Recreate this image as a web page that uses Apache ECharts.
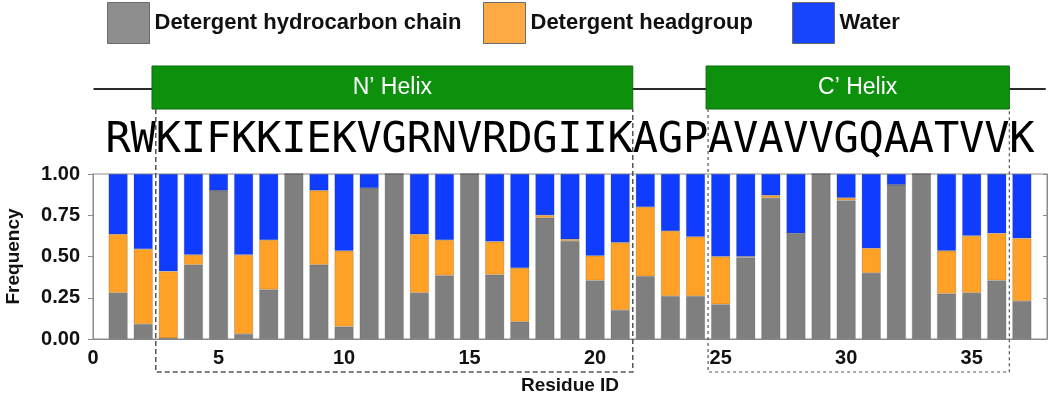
<!DOCTYPE html>
<html>
<head>
<meta charset="utf-8">
<script src="https://cdn.jsdelivr.net/npm/echarts@6/dist/echarts.min.js"></script>
<style>
html,body{margin:0;padding:0;background:#fff;}
#chart{width:1050px;height:400px;}
</style>
</head>
<body>
<div id="chart"></div>
<script>
// ---- data ----
const sequence = ['R','W','K','I','F','K','K','I','E','K','V','G','R','N','V','R','D','G','I','I','K','A','G','P','A','V','A','V','V','G','Q','A','A','T','V','V','K'];
const residueIds = [1,2,3,4,5,6,7,8,9,10,11,12,13,14,15,16,17,18,19,20,21,22,23,24,25,26,27,28,29,30,31,32,33,34,35,36,37];
const hydrocarbon = [0.28,0.09,0.005,0.45,0.90,0.03,0.30,1.00,0.45,0.075,0.915,1.00,0.28,0.385,1.00,0.39,0.105,0.735,0.595,0.355,0.175,0.38,0.26,0.26,0.21,0.495,0.855,0.64,1.00,0.84,0.40,0.935,1.00,0.275,0.28,0.355,0.23];
const headgroup = [0.355,0.455,0.405,0.06,0,0.48,0.30,0,0.45,0.46,0,0,0.355,0.215,0,0.20,0.325,0.015,0.01,0.15,0.41,0.42,0.395,0.36,0.29,0.005,0.015,0,0,0.015,0.15,0,0,0.26,0.345,0.285,0.38];
const water = [0.365,0.455,0.59,0.49,0.10,0.49,0.40,0,0.10,0.465,0.085,0,0.365,0.40,0,0.41,0.57,0.25,0.395,0.495,0.415,0.20,0.345,0.38,0.50,0.50,0.13,0.36,0,0.145,0.45,0.065,0,0.465,0.375,0.36,0.39];
const helices = [
  {name: "N\u2019 Helix", start: 2.5, end: 21.5},
  {name: "C\u2019 Helix", start: 24.5, end: 36.5}
];
const seriesNames = ['Detergent hydrocarbon chain','Detergent headgroup','Water'];
const xTicks = [0, 5, 10, 15, 20, 25, 30, 35];
const yTicks = [0, 0.25, 0.5, 0.75, 1];
const xMax = 38;

// ---- styles ----
const barColors = ['#7f7f7f','#ffa126','#0f3cff'];
const legendColors = ['#8e8e8e','#ffab45','#1744ff'];
const legendLefts = [107, 483, 792];
const boldFont = 'Liberation Sans, Arial, sans-serif';

const chart = echarts.init(document.getElementById('chart'), null, {renderer:'canvas'});

// category slots 0..xMax so every residue sits on its own integer tick
const slots = [];
for (let i = 0; i <= xMax; i++) slots.push(String(i));
function slotData(arr){
  const out = slots.map(() => null);
  arr.forEach((v,i)=>{ out[residueIds[i]] = v; });
  return out;
}

const barSeries = [hydrocarbon, headgroup, water].map((arr, k) => ({
  name: seriesNames[k],
  type: 'bar',
  stack: 'freq',
  xAxisIndex: 1, yAxisIndex: 0,
  barWidth: 19,
  data: slotData(arr),
  itemStyle: {color: barColors[k], borderColor: 'rgba(60,60,60,0.35)', borderWidth: 0.6},
  silent: true,
  animation: false,
  z: 2
}));

// helix diagram, sequence letters and dashed boxes (positioned relative to plot via axes)
const decoSeries = {
  type: 'custom',
  name: 'deco',
  xAxisIndex: 0, yAxisIndex: 0,
  data: [0],
  silent: true,
  animation: false,
  z: 5,
  renderItem: function(params, api){
    const top = api.coord([0, 1])[1];
    const bottom = api.coord([0, 0])[1];
    const children = [];
    const lineY = top - 85;
    const boxTop = top - 108, boxBot = top - 65;
    children.push({type:'line', shape:{x1: api.coord([0.02,1])[0], y1: lineY, x2: api.coord([37.95,1])[0], y2: lineY},
      style:{stroke:'#2a2a2a', lineWidth:2}, z2: 1});
    helices.forEach((h, idx) => {
      const x1 = api.coord([h.start - (idx===0?0.15:0.08), 1])[0];
      const x2 = api.coord([h.end, 1])[0];
      children.push({type:'rect', shape:{x:x1, y:boxTop, width:x2-x1, height:boxBot-boxTop},
        style:{fill:'#0d910d', stroke:'#0a6a0a', lineWidth:1}, z2: 2});
      children.push({type:'text', style:{text:h.name, x:(x1+x2)/2, y:(boxTop+boxBot)/2, align:'center', verticalAlign:'middle',
        fill:'#ffffff', font:'23px "Liberation Sans", Arial, sans-serif'}, z2: 3});
      const dx1 = api.coord([h.start,1])[0], dx2 = api.coord([h.end,1])[0];
      const dBot = bottom + 33;
      children.push({type:'polyline', shape:{points:[[dx1, boxBot],[dx1, dBot],[dx2, dBot],[dx2, boxBot]]},
        style:{stroke:'#555', lineWidth: idx===0?1.5:1.2, lineDash: idx===0?[5,3]:[3,3], fill:null}, z2: 4});
    });
    sequence.forEach((s, i) => {
      const x = api.coord([residueIds[i], 1])[0];
      children.push({type:'text', style:{text:s, x:x, y: top - 33, align:'center', verticalAlign:'middle',
        fill:'#000', font:'42px "DejaVu Sans Mono", monospace'}, z2: 3});
    });
    return {type:'group', children: children};
  }
};

const legends = seriesNames.map((n,k) => ({
  data: [{name:n, icon:'rect', itemStyle:{color:legendColors[k], borderColor:'#6a6a6a', borderWidth:1}}],
  left: legendLefts[k], top: 2,
  itemWidth: 42, itemHeight: 41,
  padding: 0,
  selectedMode: false,
  textStyle: {fontSize: 22, fontWeight: 'bold', color: '#111', fontFamily: boldFont}
}));

chart.setOption({
  animation: false,
  backgroundColor: '#fff',
  legend: legends,
  grid: {left: 93, right: 3, top: 174, bottom: 61, containLabel: false, outerBoundsMode: 'none',
    show: true, borderColor: '#8a8a8a', borderWidth: 1, backgroundColor:'#fff'},
  xAxis: [{
    type: 'value', min: 0, max: xMax, interval: 5,
    name: 'Residue ID', nameLocation: 'middle', nameGap: 37,
    nameTextStyle: {fontSize: 19, fontWeight: 'bold', color:'#111', fontFamily: boldFont},
    axisLine: {show: true, lineStyle:{color:'#8a8a8a'}},
    axisTick: {show: false},
    splitLine: {show: false},
    axisLabel: {fontSize: 20, fontWeight: 'bold', color:'#111', fontFamily: boldFont, margin: 9,
      formatter: v => xTicks.indexOf(v) >= 0 ? String(v) : ''}
  },{
    type: 'category', data: slots, boundaryGap: false, show: false
  }],
  yAxis: [{
    type: 'value', min: 0, max: 1, interval: 0.25,
    name: 'Frequency', nameLocation: 'middle', nameGap: 70,
    nameTextStyle: {fontSize: 19, fontWeight: 'bold', color:'#111', fontFamily: boldFont},
    axisLine: {show: true, lineStyle:{color:'#8a8a8a'}},
    axisTick: {show: true, length: 5, lineStyle:{color:'#8a8a8a'}},
    splitLine: {show: false},
    axisLabel: {fontSize: 20, fontWeight: 'bold', color:'#111', fontFamily: boldFont, margin: 13,
      formatter: v => yTicks.indexOf(v) >= 0 ? v.toFixed(2) : ''}
  },{
    type: 'value', min: 0, max: 1, interval: 0.25, position: 'right',
    axisLine: {show: true, lineStyle:{color:'#8a8a8a'}},
    axisTick: {show: true, inside: true, length: 4, lineStyle:{color:'#8a8a8a'}},
    axisLabel: {show: false}, splitLine: {show: false}
  }],
  series: barSeries.concat([decoSeries])
});
</script>
</body>
</html>
